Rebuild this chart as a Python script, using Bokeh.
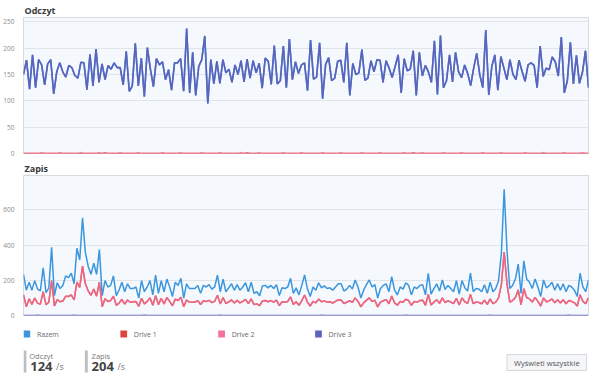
from bokeh.plotting import figure
from bokeh.layouts import column
from bokeh.models import Range1d, FixedTicker
from bokeh.core.properties import value
from bokeh.embed import file_html
from bokeh.resources import INLINE

# ---------------- data ----------------
series_names = ["Razem", "Drive 1", "Drive 2", "Drive 3"]
read_ticks = [0, 50, 100, 150, 200, 250]
write_ticks = [0, 200, 400, 600]
read_now = 124
write_now = 204

read_razem = [
    150, 177, 122, 187, 125, 178, 168, 130, 170, 178,
    113, 155, 172, 155, 145, 167, 163, 148, 143, 173,
    172, 121, 188, 128, 198, 135, 170, 140, 167, 160,
    172, 163, 163, 130, 194, 118, 128, 209, 128, 181,
    108, 201, 160, 127, 180, 168, 174, 140, 159, 120,
    172, 172, 180, 118, 237, 115, 192, 110, 165, 178,
    223, 95, 178, 132, 175, 133, 178, 153, 160, 135,
    168, 150, 176, 136, 179, 143, 176, 153, 171, 124,
    181, 175, 131, 205, 132, 138, 204, 125, 217, 140,
    174, 152, 168, 172, 119, 215, 141, 145, 210, 104,
    169, 182, 138, 143, 175, 177, 135, 210, 110, 171,
    150, 153, 197, 139, 143, 176, 155, 178, 177, 135,
    176, 162, 144, 165, 187, 115, 180, 157, 160, 195,
    110, 192, 147, 167, 155, 135, 214, 112, 224, 125,
    138, 187, 136, 192, 155, 144, 168, 152, 129, 162,
    190, 150, 125, 234, 111, 165, 187, 120, 184, 162,
    140, 178, 150, 140, 177, 156, 137, 168, 172, 167,
    125, 204, 146, 162, 159, 183, 174, 147, 221, 115,
    138, 211, 132, 186, 133, 154, 195, 125,
]
read_drive1 = [
    0, 0, 0, 0, 0, 0, 0, 0, 0, 0, 0, 0, 0, 0, 0, 0, 0, 0, 0, 0,
    0, 0, 0, 0, 0, 0, 0, 1, 0, 0, 0, 0, 0, 0, 0, 0, 0, 0, 0, 0,
    0, 0, 0, 0, 0, 0, 0, 0, 0, 0, 0, 0, 0, 0, 0, 0, 0, 0, 0, 0,
    0, 0, 0, 0, 0, 0, 0, 0, 0, 0, 0, 0, 0, 0, 1, 0, 0, 0, 0, 0,
    0, 0, 0, 0, 0, 0, 0, 0, 0, 0, 0, 0, 0, 0, 0, 0, 0, 0, 0, 0,
    0, 0, 0, 0, 0, 0, 0, 0, 0, 0, 0, 0, 0, 0, 0, 0, 0, 0, 0, 0,
    0, 0, 0, 0, 0, 0, 0, 0, 0, 1, 0, 0, 0, 0, 0, 0, 0, 0, 0, 0,
    0, 0, 0, 0, 0, 0, 0, 0, 0, 0, 0, 0, 0, 0, 0, 0, 0, 0, 0, 0,
    0, 0, 0, 0, 0, 0, 0, 0, 0, 0, 0, 0, 0, 0, 0, 0, 0, 0, 0, 0,
    0, 0, 0, 0, 0, 0, 0, 0,
]
read_drive2 = [
    0, 0, 0, 0, 0, 0, 2, 0, 0, 0, 0, 0, 2, 0, 0, 0, 0, 0, 0, 2,
    0, 0, 0, 0, 0, 2, 0, 0, 0, 0, 0, 0, 2, 0, 0, 0, 0, 0, 2, 0,
    0, 0, 0, 0, 0, 0, 2, 0, 0, 0, 0, 0, 2, 0, 0, 0, 0, 0, 0, 2,
    0, 0, 0, 0, 0, 2, 0, 0, 0, 0, 0, 0, 2, 0, 0, 0, 0, 0, 2, 0,
    0, 0, 0, 0, 0, 0, 2, 0, 0, 0, 0, 0, 2, 0, 0, 0, 0, 0, 0, 2,
    0, 0, 0, 0, 0, 2, 0, 0, 0, 0, 0, 0, 2, 0, 0, 0, 0, 0, 2, 0,
    0, 0, 0, 0, 0, 0, 2, 0, 0, 0, 0, 0, 2, 0, 0, 0, 0, 0, 0, 2,
    0, 0, 0, 0, 0, 2, 0, 0, 0, 0, 0, 0, 2, 0, 0, 0, 0, 0, 2, 0,
    0, 0, 0, 0, 0, 0, 2, 0, 0, 0, 0, 0, 2, 0, 0, 0, 0, 0, 0, 2,
    0, 0, 0, 0, 0, 2, 0, 0,
]
# reads are all served by Drive 3
read_drive3 = read_razem

write_razem = [
    234, 144, 189, 144, 198, 150, 140, 270, 130, 155,
    387, 113, 186, 153, 170, 225, 215, 240, 180, 382,
    315, 555, 360, 280, 234, 297, 234, 375, 113, 198,
    162, 171, 225, 113, 145, 189, 135, 180, 153, 153,
    162, 99, 198, 135, 162, 198, 117, 229, 126, 198,
    135, 207, 162, 108, 189, 171, 211, 99, 180, 153,
    153, 153, 171, 126, 171, 162, 175, 150, 162, 229,
    135, 207, 135, 157, 180, 144, 175, 144, 162, 186,
    135, 189, 126, 135, 112, 168, 171, 157, 171, 153,
    175, 113, 157, 153, 162, 211, 126, 157, 117, 171,
    231, 153, 108, 162, 144, 186, 157, 168, 153, 157,
    144, 162, 180, 180, 139, 150, 171, 150, 202, 162,
    99, 144, 175, 202, 162, 175, 99, 153, 171, 180,
    135, 220, 144, 117, 162, 150, 186, 171, 117, 162,
    153, 171, 175, 117, 240, 121, 153, 180, 139, 202,
    148, 171, 153, 135, 198, 121, 198, 157, 139, 240,
    135, 153, 150, 135, 175, 126, 189, 135, 153, 198,
    351, 717, 369, 153, 171, 207, 292, 126, 310, 207,
    189, 153, 207, 162, 108, 202, 157, 168, 189, 144,
    180, 144, 180, 135, 171, 162, 144, 108, 240, 162,
    135, 202,
]
write_drive2 = [
    117, 50, 95, 63, 99, 70, 65, 135, 62, 75,
    198, 54, 90, 78, 82, 110, 108, 117, 88, 190,
    160, 280, 180, 140, 115, 150, 110, 189, 50, 95,
    80, 85, 110, 58, 70, 92, 65, 88, 75, 78,
    80, 52, 98, 66, 80, 100, 58, 112, 62, 97,
    66, 102, 80, 55, 93, 85, 104, 50, 88, 76,
    75, 76, 85, 62, 84, 80, 86, 74, 80, 115,
    66, 102, 68, 78, 88, 71, 86, 72, 80, 92,
    67, 94, 62, 66, 56, 83, 85, 78, 84, 76,
    87, 56, 78, 75, 80, 105, 63, 78, 58, 85,
    116, 76, 54, 80, 72, 93, 78, 83, 76, 78,
    71, 80, 90, 88, 68, 75, 85, 74, 100, 80,
    50, 72, 86, 100, 80, 87, 49, 76, 84, 90,
    67, 110, 72, 58, 80, 75, 92, 85, 58, 80,
    76, 85, 87, 58, 120, 60, 76, 89, 69, 100,
    73, 85, 76, 67, 98, 60, 99, 78, 69, 120,
    67, 76, 74, 67, 87, 63, 94, 67, 76, 100,
    175, 360, 180, 76, 85, 102, 145, 62, 152, 102,
    94, 76, 103, 80, 54, 100, 78, 83, 94, 72,
    89, 71, 90, 67, 85, 80, 72, 54, 118, 80,
    67, 100,
]
# mirrored pair: Drive 1 writes the same as Drive 2
write_drive1 = write_drive2
write_drive3 = [
    0, 0, 0, 0, 0, 1, 0, 0, 0, 0, 0, 0, 0, 0, 0, 0, 0, 0, 1, 0,
    0, 0, 0, 0, 0, 0, 0, 0, 0, 0, 0, 0, 0, 0, 0, 0, 0, 0, 0, 0,
    0, 0, 0, 1, 0, 0, 0, 0, 0, 0, 0, 0, 0, 0, 0, 0, 0, 0, 0, 0,
    0, 0, 0, 0, 0, 0, 0, 0, 0, 0, 1, 0, 0, 0, 0, 0, 0, 0, 0, 0,
    0, 0, 0, 0, 0, 0, 0, 0, 0, 0, 0, 0, 0, 0, 0, 0, 0, 0, 0, 0,
    0, 0, 0, 0, 0, 0, 1, 0, 0, 0, 0, 0, 0, 0, 0, 0, 0, 0, 0, 0,
    0, 0, 0, 0, 0, 0, 0, 0, 0, 0, 0, 0, 0, 0, 0, 0, 1, 0, 0, 0,
    0, 0, 0, 0, 0, 0, 0, 0, 0, 0, 0, 0, 0, 0, 0, 0, 0, 0, 0, 0,
    0, 0, 0, 0, 0, 0, 1, 0, 0, 0, 0, 0, 0, 0, 0, 0, 0, 0, 0, 0,
    0, 0, 0, 0, 0, 0, 0, 0, 0, 0, 0, 0, 0, 0, 1, 0, 0, 0, 0, 0,
    0, 0,
]

# ---------------- styling ----------------
FONT = "Open Sans"
C_RAZEM = "#3b96de"
C_D1 = "#e0453d"
C_D2 = "#f2709b"
C_D3 = "#5d62bd"
SERIES_COLORS = [C_RAZEM, C_D1, C_D2, C_D3]
W = 589


def make_chart(title, series, ymax, ticks, height):
    n = len(series[0][0])
    p = figure(width=W, height=height, output_backend="svg", toolbar_location=None,
               x_range=Range1d(0, n - 1), y_range=Range1d(0, ymax),
               x_axis_location=None, title=title,
               min_border_left=0, min_border_right=1, min_border_top=0,
               min_border_bottom=5)
    p.title.text_font = FONT
    p.title.text_font_size = "9px"
    p.title.text_font_style = "bold"
    p.title.text_color = "#3a3a3a"
    p.title.standoff = 2
    p.title.offset = 1
    p.background_fill_color = "#f5f9fd"
    p.border_fill_color = "white"
    p.outline_line_color = "#d6dbe0"
    p.xgrid.visible = False
    p.ygrid.grid_line_color = "#e0e5ea"
    p.yaxis.ticker = FixedTicker(ticks=ticks)
    p.yaxis.axis_line_color = None
    p.yaxis.major_tick_line_color = None
    p.yaxis.minor_tick_line_color = None
    p.yaxis.major_label_text_font = FONT
    p.yaxis.major_label_text_font_size = "6.5px"
    p.yaxis.major_label_text_color = "#8c8c8c"
    p.yaxis.major_label_standoff = 3
    for vals, color, width, alpha in series:
        p.line(list(range(len(vals))), vals, line_color=color,
               line_width=width, line_alpha=alpha)
    return p


p_read = make_chart("Odczyt", [
    (read_razem, C_RAZEM, 1.6, 1.0),
    (read_drive1, C_D1, 1.3, 1.0),
    (read_drive2, C_D2, 1.3, 0.8),
    (read_drive3, C_D3, 1.6, 1.0),
], 258, read_ticks, 158)

p_write = make_chart("Zapis", [
    (write_razem, C_RAZEM, 1.5, 1.0),
    (write_drive1, C_D1, 1.5, 1.0),
    (write_drive2, C_D2, 1.5, 0.75),
    (write_drive3, C_D3, 1.5, 1.0),
], 795, write_ticks, 162)

# ---------------- legend + stats panel ----------------
H = 55
p_bot = figure(width=W, height=H, output_backend="svg", toolbar_location=None,
               x_range=Range1d(0, W), y_range=Range1d(0, H),
               x_axis_location=None, y_axis_location=None, min_border=0)
p_bot.outline_line_color = None
p_bot.grid.visible = False
p_bot.background_fill_color = "white"
p_bot.border_fill_color = "white"

# legend swatches and labels
leg_x = [0, 101, 203, 304]
p_bot.quad(left=leg_x, right=[x + 7 for x in leg_x], bottom=[38] * 4, top=[45] * 4,
           fill_color=SERIES_COLORS, line_color=None)
p_bot.text(x=[x + 14 for x in leg_x], y=[41.5] * 4, text=series_names,
           text_font=value(FONT), text_font_size="7px", text_color="#6a6a6a",
           text_baseline="middle", text_align="left")

# stat bars
p_bot.quad(left=[0, 64], right=[3, 67], bottom=[3, 3], top=[25, 25],
           fill_color="#b9bfc5", line_color=None)
p_bot.text(x=[6, 71], y=[20, 20], text=["Odczyt", "Zapis"],
           text_font=value(FONT), text_font_size="7.5px", text_color="#777777",
           text_baseline="middle", text_align="left")
p_bot.text(x=[7, 71], y=[9, 9], text=[str(read_now), str(write_now)],
           text_font=value(FONT), text_font_size="13px", text_font_style="bold",
           text_color="#444444", text_baseline="alphabetic", text_align="left")
p_bot.text(x=[34, 98], y=[9, 9], text=["/s", "/s"],
           text_font=value(FONT), text_font_size="9px", text_color="#777777",
           text_baseline="alphabetic", text_align="left")

# button
p_bot.quad(left=[504], right=[587], bottom=[5], top=[21],
           fill_color="#f4f6f8", line_color="#d3d8dd", line_width=1)
p_bot.text(x=[545.5], y=[13], text=["Wyświetl wszystkie"],
           text_font=value(FONT), text_font_size="7.5px", text_color="#555555",
           text_baseline="middle", text_align="center")

layout = column(p_read, p_write, p_bot, spacing=0)

open("out.html", "w").write(file_html(layout, INLINE))
